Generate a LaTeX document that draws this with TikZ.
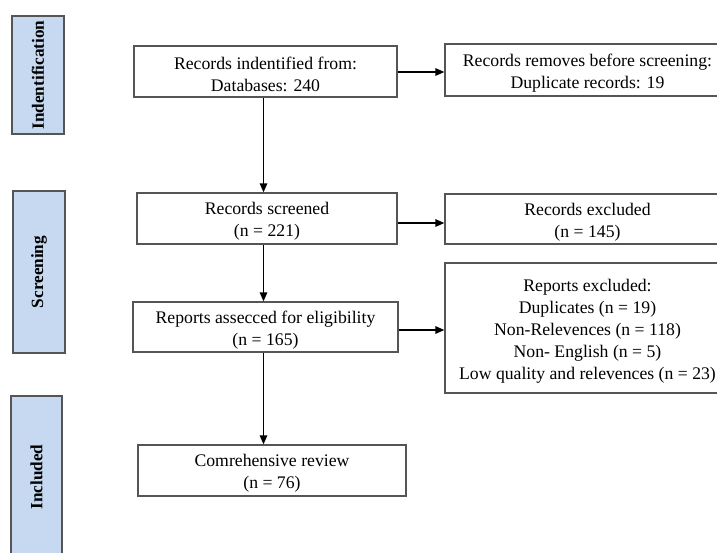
\documentclass[tikz,border=0pt]{standalone}
\usepackage{fontspec}
\setmainfont{Liberation Serif}
\usetikzlibrary{arrows.meta}
\definecolor{barfill}{RGB}{198,217,240}
\definecolor{edgegray}{RGB}{85,85,85}
\newcommand{\tp}{\rule{0pt}{18.5pt}}
\begin{document}
\begin{tikzpicture}[x=1pt,y=-1pt,
  box/.style={draw=edgegray,line width=1.3pt,fill=white,inner sep=0pt,align=center,
    font=\fontsize{17.7}{22}\selectfont},
  bar/.style={draw=edgegray,line width=1.3pt,fill=barfill,inner sep=0pt,rotate=90,
    font=\fontsize{17.2}{20}\selectfont\bfseries},
  arr/.style={line width=1.4pt,-{Triangle[length=9pt,width=7.5pt]}}]
\useasboundingbox (0,0) rectangle (717,552);
\clip (0,0) rectangle (717,552);
% stage bars
\node[bar,minimum width=118pt,minimum height=52pt] (bid) at (38,75) {Indentification};
\node[bar,minimum width=162pt,minimum height=52pt] (bsc) at (39,272) {Screening};
\node[bar,minimum width=162pt,minimum height=51pt] (bin) at (36.5,477) {Included};
% main boxes
\node[box,minimum width=263pt,minimum height=51pt] (ident) at (265.5,71.5) {\tp Records indentified from:\\Databases: 240};
\node[box,minimum width=285pt,minimum height=52pt] (removed) at (587.5,70) {\tp Records removes before screening:\\Duplicate records: 19};
\node[box,minimum width=260pt,minimum height=51pt] (screened) at (267,218.5) {\tp Records screened\\(n = 221)};
\node[box,minimum width=285pt,minimum height=50pt] (excl) at (587.5,219) {\tp Records excluded\\(n = 145)};
\node[box,minimum width=265pt,minimum height=50pt] (assessed) at (265.5,327) {\tp Reports assecced for eligibility\\(n = 165)};
\node[box,minimum width=285pt,minimum height=130pt] (repexcl) at (587.5,328) {\tp Reports excluded:\\Duplicates (n = 19)\\Non-Relevences (n = 118)\\Non- English (n = 5)\\Low quality and relevences (n = 23)};
\node[box,minimum width=268pt,minimum height=51pt] (review) at (272,470.5) {\tp Comrehensive review\\(n = 76)};
% connectors
\coordinate (ax) at (263.5,0);
\draw[arr] (ident.south -| ax) -- (screened.north -| ax);
\draw[arr] (screened.south -| ax) -- (assessed.north -| ax);
\draw[arr] (assessed.south -| ax) -- (review.north -| ax);
\coordinate (h1) at (0,72);
\coordinate (h2) at (0,223);
\coordinate (h3) at (0,330);
\draw[arr] (ident.east |- h1) -- (removed.west |- h1);
\draw[arr] (screened.east |- h2) -- (excl.west |- h2);
\draw[arr] (assessed.east |- h3) -- (repexcl.west |- h3);
\end{tikzpicture}
\end{document}
